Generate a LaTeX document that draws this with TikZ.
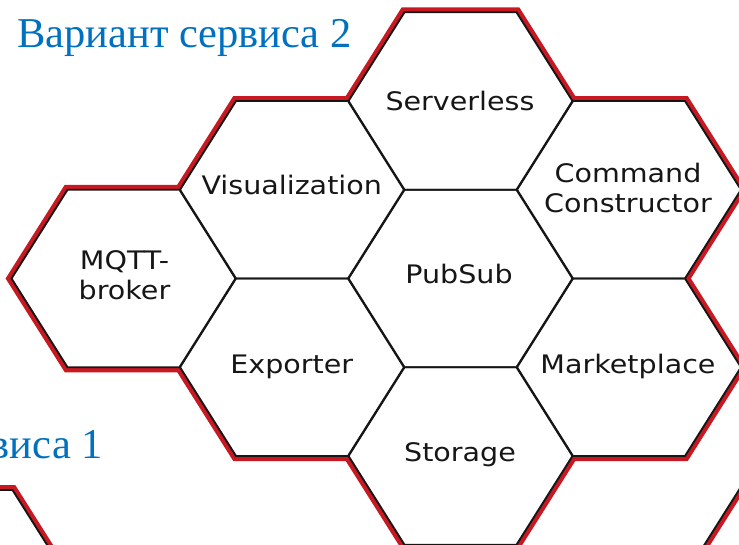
\documentclass[tikz,border=0pt]{standalone}
\usepackage{fontspec}
\setmainfont{Liberation Serif}
\newfontfamily\hexfont[FakeStretch=1.12]{DejaVu Sans}
\definecolor{titleblue}{RGB}{0,112,192}
\definecolor{rimred}{RGB}{200,24,34}
\definecolor{edgeblack}{RGB}{22,22,22}
\begin{document}
\begin{tikzpicture}[x=1pt,y=-1pt,
  rim/.style={draw=rimred,line width=10pt,line join=miter},
  edge/.style={draw=edgeblack,line width=1.9pt,line join=miter},
  hexlabel/.style={font=\hexfont\fontsize{25.5}{30}\selectfont,text=edgeblack,inner sep=0pt,align=center},
  heading/.style={font=\fontsize{42.5}{48}\selectfont,text=titleblue,inner sep=0pt}]
\useasboundingbox (0,0) rectangle (739,544);
\clip (0,0) rectangle (739,544);

% hexagon outline relative to its centre
\def\hexpath{++(-112,0) -- ++(56,-88.75) -- ++(112,0) -- ++(56,88.75) -- ++(-56,88.75) -- ++(-112,0) -- cycle}
\def\cells{460.5/101, 292/189.75, 629/189.75, 123.5/278.5, 460.5/278.5,
  292/367.25, 629/367.25, 460.5/456, -43.5/578.75}

% red rim: thick stroke, whose inner half is covered by the white cells
\foreach \cx/\cy in \cells { \draw[rim] (\cx,\cy) \hexpath; }
\foreach \cx/\cy in \cells { \fill[white] (\cx,\cy) \hexpath; }
\foreach \cx/\cy in \cells { \draw[edge] (\cx,\cy) \hexpath; }

% edge of a neighbouring group at the lower right
\coordinate (fa) at (751.6,470);
\coordinate (fb) at (694.8,560);
\draw[rim] (fa) -- (fb);
\fill[white] (fa) -- (fb) -- (684.6,553.6) -- (741.4,463.6) -- cycle;
\draw[edge] (fa) -- (fb);

% cell labels
\node[hexlabel,anchor=base] (serverless) at (460,110) {Serverless};
\node[hexlabel,anchor=base] (visualization) at (291.7,194.5) {Visualization};
\node[hexlabel] (command) at (628,188.3) {Command\\Constructor};
\node[hexlabel] (mqtt) at (124.5,275.7) {MQTT-\\broker};
\node[hexlabel,anchor=base] (pubsub) at (459,283.5) {PubSub};
\node[hexlabel,anchor=base] (exporter) at (291.7,373.5) {Exporter};
\node[hexlabel,anchor=base] (marketplace) at (628,373.5) {Marketplace};
\node[hexlabel,anchor=base] (storage) at (460,461.7) {Storage};

% headings
\node[heading,anchor=base west] (variant2) at (17,47) {Вариант сервиса 2};
\node[heading,anchor=base east] (variant1) at (103,458) {Вариант сервиса 1};
\end{tikzpicture}
\end{document}
